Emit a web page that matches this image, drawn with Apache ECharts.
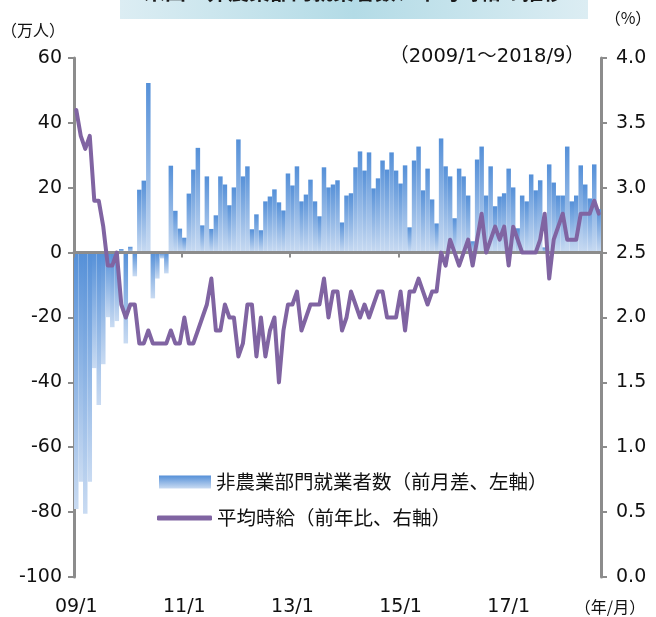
<!DOCTYPE html>
<html>
<head>
<meta charset="utf-8">
<script src="https://cdn.jsdelivr.net/npm/echarts@6/dist/echarts.min.js"></script>
<style>
  html, body { margin: 0; padding: 0; background: #ffffff; }
  #chart { width: 656px; height: 617px; }
</style>
</head>
<body>
<div id="chart"></div>
<script>
// Monthly series, 2009/1 through 2018/9
const startYear = 2009;
const monthCount = 117;

// Nonfarm payrolls, month-on-month change (10k persons)
const payrollChange = [
  -79, -70.6, -80.5, -70.6, -35.6, -47, -34.4, -19.9, -23, -21.1, 1.1, -28,
  1.8, -7.3, 19.4, 22.2, 52.3, -14.1, -8, -1.8, -6.4, 26.8, 12.9, 7.4,
  4.6, 18.2, 25.6, 32.3, 8.4, 23.5, 7.3, 11.5, 23.5, 21, 14.6, 20.1,
  34.9, 23.5, 26.6, 7.2, 11.8, 6.9, 15.8, 17.3, 19.5, 15.5, 13, 24.4,
  20.7, 26.6, 15.8, 17.9, 22.5, 15.8, 11.2, 26.3, 20.1, 21, 22.3, 9.3,
  17.6, 18.3, 26.3, 31.2, 25.3, 30.9, 19.8, 22.9, 28.4, 25.6, 30.9, 25.3,
  21.3, 26.9, 7.8, 28.4, 32.7, 19.2, 25.9, 16.4, 9.0, 35.2, 26.6, 23.5,
  10.6, 25.9, 23.5, 17.6, 3.5, 28.7, 32.7, 17.6, 26.6, 14.3, 17.3, 18.3,
  25.9, 20.1, 7.5, 17.6, 15.8, 24.1, 19.2, 22.3, 1.6, 27.2, 21.6, 17.6,
  17.6, 32.7, 15.8, 17.6, 26.9, 21.0, 16.7, 27.2, 13.4
];

// Average hourly earnings, year-on-year (%)
const hourlyEarnings = [
  3.6, 3.4, 3.3, 3.4, 2.9, 2.9, 2.7, 2.4, 2.4, 2.5, 2.1, 2.0,
  2.1, 2.1, 1.8, 1.8, 1.9, 1.8, 1.8, 1.8, 1.8, 1.9, 1.8, 1.8,
  2.0, 1.8, 1.8, 1.9, 2.0, 2.1, 2.3, 1.9, 1.9, 2.1, 2.0, 2.0,
  1.7, 1.8, 2.1, 2.1, 1.7, 2.0, 1.7, 1.9, 2.0, 1.5, 1.9, 2.1,
  2.1, 2.2, 1.9, 2.0, 2.1, 2.1, 2.1, 2.3, 2.0, 2.2, 2.2, 1.9,
  2.0, 2.2, 2.1, 2.0, 2.1, 2.0, 2.1, 2.2, 2.2, 2.0, 2.0, 2.0,
  2.2, 1.9, 2.2, 2.2, 2.3, 2.2, 2.1, 2.2, 2.2, 2.5, 2.4, 2.6,
  2.5, 2.4, 2.5, 2.6, 2.4, 2.6, 2.8, 2.5, 2.6, 2.7, 2.6, 2.7,
  2.4, 2.7, 2.6, 2.5, 2.5, 2.5, 2.5, 2.6, 2.8, 2.3, 2.6, 2.7,
  2.8, 2.6, 2.6, 2.6, 2.8, 2.8, 2.8, 2.9, 2.8
];

// Category labels "yy/m"
const categories = [];
for (let i = 0; i < monthCount; i++) {
  const y = startYear + Math.floor(i / 12);
  const m = (i % 12) + 1;
  categories.push(String(y % 100).padStart(2, '0') + '/' + m);
}

const seriesNames = ['非農業部門就業者数（前月差、左軸）', '平均時給（前年比、右軸）'];
const titleText = '米国：非農業部門就業者数、平均時給の推移';
const periodText = '（2009/1～2018/9）';
const leftUnit = '（万人）';
const rightUnit = '（%）';
const xUnit = '（年/月）';

const axisGray = '#8c8c8c';
const lineColor = '#8064a2';
const numFont = '"DejaVu Sans", "Noto Sans CJK JP", sans-serif';
const jpFont = '"Noto Sans CJK JP", sans-serif';
const everyTwoYears = (i) => i % 24 === 0;

const barGradient = () => new echarts.graphic.LinearGradient(0, 0, 0, 1, [
  { offset: 0, color: '#5590d8' },
  { offset: 1, color: '#c9dbf2' }
]);

const chart = echarts.init(document.getElementById('chart'), null, { renderer: 'canvas' });

chart.setOption({
  animation: false,
  backgroundColor: '#ffffff',
  grid: { left: 74, right: 55, top: 58, bottom: 39, containLabel: false },
  legend: [
    {
      data: [{ name: seriesNames[0], icon: 'rect' }],
      left: 154, top: 465,
      itemWidth: 52, itemHeight: 13, itemGap: 0,
      textStyle: { fontFamily: jpFont, fontSize: 19.5, color: '#111', lineHeight: 24 },
      selectedMode: false
    },
    {
      data: [{ name: seriesNames[1], icon: 'roundRect', itemStyle: { color: lineColor } }],
      left: 152, top: 501,
      itemWidth: 55, itemHeight: 5, itemGap: 0,
      textStyle: { fontFamily: jpFont, fontSize: 19.5, color: '#111', lineHeight: 24 },
      selectedMode: false
    }
  ],
  xAxis: [
    {
      type: 'category',
      data: categories,
      boundaryGap: true,
      axisLine: { show: true, onZero: true, onZeroAxisIndex: 0, lineStyle: { color: axisGray, width: 3 } },
      axisTick: { show: true, interval: everyTwoYears, length: 5, lineStyle: { color: axisGray, width: 2 } },
      axisLabel: { show: false },
      splitLine: { show: false },
      z: 5
    },
    {
      type: 'category',
      data: categories,
      position: 'bottom',
      boundaryGap: true,
      axisLine: { show: false, onZero: false },
      axisTick: { show: false },
      axisLabel: {
        show: true, interval: 23, margin: 21,
        fontFamily: numFont, fontSize: 19, color: '#111'
      },
      splitLine: { show: false }
    }
  ],
  yAxis: [
    {
      type: 'value',
      min: -100, max: 60, interval: 20,
      position: 'left',
      axisLine: { show: true, lineStyle: { color: axisGray, width: 3 } },
      axisTick: { show: true, length: 6, lineStyle: { color: axisGray, width: 2 } },
      axisLabel: { margin: 12, fontFamily: numFont, fontSize: 19, color: '#111' },
      splitLine: { show: false }
    },
    {
      type: 'value',
      min: 0, max: 4, interval: 0.5,
      position: 'right',
      axisLine: { show: true, lineStyle: { color: axisGray, width: 3 } },
      axisTick: { show: true, length: 6, lineStyle: { color: axisGray, width: 2 } },
      axisLabel: {
        margin: 15, fontFamily: numFont, fontSize: 19, color: '#111',
        formatter: (v) => v.toFixed(1)
      },
      splitLine: { show: false }
    }
  ],
  series: [
    {
      name: seriesNames[0],
      type: 'bar',
      xAxisIndex: 0,
      yAxisIndex: 0,
      data: payrollChange,
      barCategoryGap: '0%',
      itemStyle: { color: barGradient() },
      z: 2
    },
    {
      name: seriesNames[1],
      type: 'line',
      xAxisIndex: 0,
      yAxisIndex: 1,
      data: hourlyEarnings,
      symbol: 'none',
      lineStyle: { color: lineColor, width: 4, join: 'round', cap: 'round' },
      itemStyle: { color: lineColor },
      z: 6
    }
  ],
  graphic: [
    {
      type: 'rect',
      left: 120, top: -22,
      shape: { width: 468, height: 41 },
      style: {
        fill: new echarts.graphic.LinearGradient(0, 0, 1, 0, [
          { offset: 0, color: '#dcedf3' },
          { offset: 0.5, color: '#b3dbe6' },
          { offset: 1, color: '#dcedf3' }
        ])
      },
      z: 10
    },
    {
      type: 'text',
      x: 354, y: -9,
      style: {
        text: titleText, fill: '#1a1a1a',
        font: 'bold 21px "Noto Sans CJK JP", sans-serif',
        textAlign: 'center', textVerticalAlign: 'middle'
      },
      z: 11
    },
    {
      type: 'text',
      x: 33, y: 30,
      style: { text: leftUnit, fill: '#111', font: '16px "Noto Sans CJK JP", sans-serif', textAlign: 'center', textVerticalAlign: 'middle' },
      z: 10
    },
    {
      type: 'text',
      x: 628, y: 18,
      style: { text: rightUnit, fill: '#111', font: '16px "Noto Sans CJK JP", sans-serif', textAlign: 'center', textVerticalAlign: 'middle' },
      z: 10
    },
    {
      type: 'text',
      x: 487, y: 57,
      style: { text: periodText, fill: '#111', font: '19.5px "DejaVu Sans", "Noto Sans CJK JP", sans-serif', textAlign: 'center', textVerticalAlign: 'middle' },
      z: 10
    },
    {
      type: 'text',
      x: 610, y: 607,
      style: { text: xUnit, fill: '#111', font: '16px "Noto Sans CJK JP", sans-serif', textAlign: 'center', textVerticalAlign: 'middle' },
      z: 10
    }
  ]
});
</script>
</body>
</html>
